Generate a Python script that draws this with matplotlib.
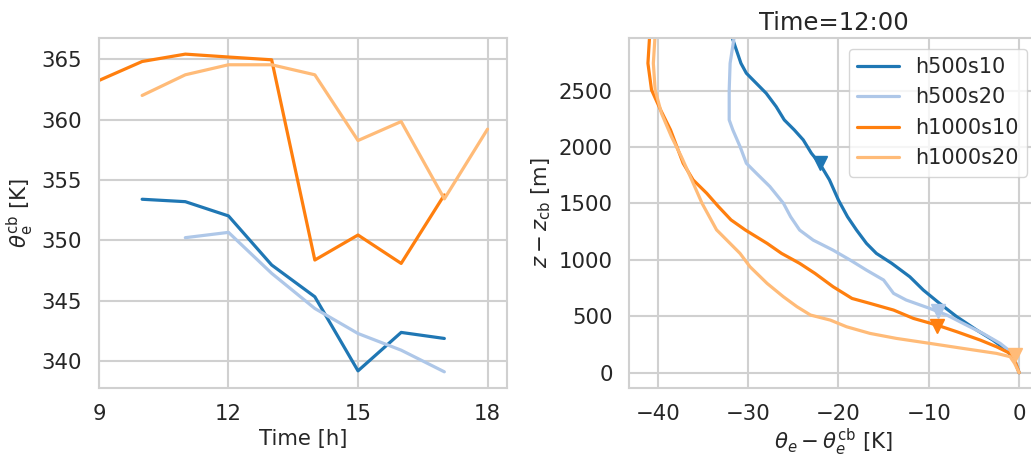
import numpy as np
import matplotlib
matplotlib.use("Agg")
from matplotlib import pyplot as plt
import seaborn as sns

# colours (tab20 pairs)
colors = {"h500s10": "#1f77b4", "h500s20": "#aec7e8",
          "h1000s10": "#ff7f0e", "h1000s20": "#ffbb78"}
names = ["h500s10", "h500s20", "h1000s10", "h1000s20"]

# left panel: cloud-base theta_e over time
hours_s10 = [10, 11, 12, 13, 14, 15, 16, 17]
theta_h500s10 = [353.40, 353.20, 352.02, 347.96, 345.33, 339.20, 342.38, 341.88]
hours_h500s20 = [11, 12, 13, 14, 15, 16, 17]
theta_h500s20 = [350.22, 350.66, 347.27, 344.36, 342.29, 340.91, 339.12]
hours_h1000s10 = [9, 10, 11, 12, 13, 14, 15, 16, 17]
theta_h1000s10 = [363.23, 364.80, 365.41, 365.17, 364.94, 348.37, 350.44, 348.09, 353.76]
hours_h1000s20 = [10, 11, 12, 13, 14, 15, 16, 17, 18]
theta_h1000s20 = [361.99, 363.70, 364.53, 364.53, 363.70, 358.26, 359.83, 353.43, 359.20]

# right panel: profiles at 12:00 (z above cloud base, theta_e anomaly)
z_h500s10 = [0, 112, 201, 289, 378, 496, 614, 732, 850, 969, 1057, 1146, 1264, 1382,
             1529, 1709, 1856, 1945, 2063, 2152, 2240, 2358, 2476, 2654, 2742, 3000]
dth_h500s10 = [0, -0.5, -1.4, -2.9, -4.7, -6.9, -8.8, -10.6, -12.1, -14.1, -15.8, -16.9, -18.0, -19.0,
               -20.0, -21.0, -22.1, -23.0, -23.9, -24.9, -26.0, -26.9, -28.0, -30.2, -30.8, -31.9]
z_h500s20 = [0, 171, 260, 348, 437, 511, 570, 644, 703, 821, 909, 998, 1086, 1175,
             1264, 1382, 1502, 1650, 1768, 1856, 2004, 2152, 2240, 2506, 2742, 3000]
dth_h500s20 = [0, -0.7, -2.1, -4.0, -6.2, -8.0, -9.9, -12.5, -13.9, -15.0, -16.9, -18.7, -20.6, -22.8,
               -24.3, -25.3, -26.1, -27.6, -29.1, -30.2, -30.9, -31.7, -32.1, -32.1, -32.0, -31.5]
z_h1000s10 = [0, 112, 171, 230, 289, 363, 422, 481, 555, 614, 658, 762, 880, 969, 1057,
              1146, 1264, 1354, 1473, 1591, 1709, 1856, 2004, 2152, 2329, 2506, 2742, 3000]
dth_h1000s10 = [0, -0.5, -1.0, -2.5, -4.3, -6.9, -9.1, -11.7, -13.9, -16.5, -18.5, -20.6, -22.6, -24.3, -26.3,
                -27.9, -30.3, -31.9, -33.3, -34.6, -36.1, -37.2, -37.9, -38.6, -39.7, -40.7, -41.1, -40.9]
z_h1000s20 = [0, 83, 142, 171, 215, 260, 304, 348, 407, 466, 511, 585, 673, 791, 939,
              1057, 1266, 1500, 1709, 1915, 2093, 2299, 2506, 2742, 3000]
dth_h1000s20 = [0, -0.5, -1.0, -2.5, -6.2, -9.9, -13.6, -16.5, -19.1, -20.9, -23.1, -24.6, -26.1, -27.9, -29.8,
                -30.9, -33.5, -35.1, -36.25, -37.4, -38.5, -39.6, -40.3, -40.5, -40.3]

# triangle markers on each profile
mark_dth = [-22.1, -9.0, -9.1, -0.4]
mark_z = [1856, 550, 410, 160]

sns.set_style("whitegrid")
plt.rcParams['font.family'] = ['DejaVu Sans']
plt.rcParams['grid.linewidth'] = 1.5
plt.rcParams['grid.color'] = '#d0d0d0'
plt.rcParams['axes.linewidth'] = 1.5
plt.rcParams['axes.edgecolor'] = '#d0d0d0'

fig = plt.figure(figsize=(10.31, 4.58), dpi=100)
ax1 = fig.add_axes([0.0960, 0.1535, 0.3957, 0.763])
ax2 = fig.add_axes([0.6104, 0.1535, 0.3960, 0.763])

lw = 2.3
series_left = [(hours_s10, theta_h500s10), (hours_h500s20, theta_h500s20),
               (hours_h1000s10, theta_h1000s10), (hours_h1000s20, theta_h1000s20)]
for name, (x, y) in zip(names, series_left):
    ax1.plot(x, y, color=colors[name], lw=lw)
ax1.set_xlim(left=9)
ax1.set_xticks([9, 12, 15, 18])
ax1.set_xlabel("Time [h]", fontsize=15.3, labelpad=3)
ax1.set_ylabel(r"$\theta^{\rm cb}_{\rm e}$ [K]", fontsize=15.3)

series_right = [(dth_h500s10, z_h500s10), (dth_h500s20, z_h500s20),
                (dth_h1000s10, z_h1000s10), (dth_h1000s20, z_h1000s20)]
for i, (name, (x, z)) in enumerate(zip(names, series_right)):
    ax2.plot(x, z, color=colors[name], lw=lw, label=name)
    ax2.plot(mark_dth[i], mark_z[i], marker='v', ms=10, color=colors[name], ls='none')
ax2.set_xlim(-43.16, 2.05)
ax2.set_ylim(-133, 2964)
ax2.set_xlabel(r"$\theta_e - \theta_e^{\rm cb}$ [K]", fontsize=15.3, labelpad=1.5)
ax2.set_ylabel(r"$z - z_{\rm cb}$ [m]", fontsize=15.3)
ax2.set_title("Time=12:00", fontsize=17.5)
ax2.legend(loc="upper right", fontsize=15)

for ax in (ax1, ax2):
    ax.tick_params(labelsize=15.3, length=0, pad=12)

fig.savefig("out.png", dpi=100)
